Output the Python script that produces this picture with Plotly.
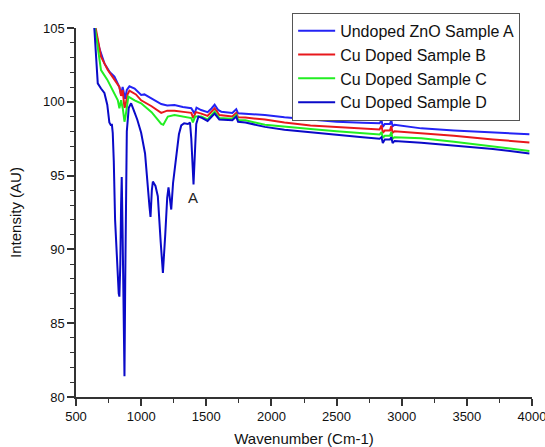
import plotly.graph_objects as go

# ---- data ----
wn_a = [630, 645, 680, 718, 760, 795, 833, 846, 858, 870, 877, 890, 910, 950, 1000, 1025, 1080, 1154,
        1200, 1256, 1320, 1385, 1410, 1425, 1460, 1510, 1540, 1564, 1590, 1615, 1700, 1730, 1744, 1800,
        1950, 2100, 2300, 2500, 2700, 2830, 2845, 2855, 2870, 2910, 2920, 2930, 2945, 3150, 3400, 3700, 3980]
val_a = [106.0, 105.0, 103.6, 102.6, 102.0, 101.7, 101.0, 100.5, 101.0, 100.6, 100.2, 100.8, 101.05, 100.9,
         100.46, 100.5, 100.2, 99.85, 99.75, 99.78, 99.65, 99.56, 99.2, 99.6, 99.44, 99.3, 99.55, 99.8, 99.45,
         99.33, 99.25, 99.5, 99.22, 99.2, 99.1, 98.95, 98.78, 98.65, 98.58, 98.54, 98.75, 98.3, 98.5, 98.5,
         98.75, 98.35, 98.45, 98.2, 98.05, 97.9, 97.8]

wn_b = [630, 650, 692, 718, 744, 795, 833, 846, 858, 872, 879, 895, 910, 960, 1000, 1080, 1154, 1200,
        1256, 1340, 1385, 1400, 1420, 1462, 1510, 1564, 1600, 1700, 1730, 1744, 1800, 1950, 2100, 2300,
        2500, 2700, 2830, 2845, 2855, 2870, 2910, 2920, 2930, 2945, 3150, 3400, 3700, 3980]
val_b = [106.0, 105.0, 103.05, 102.6, 102.15, 101.5, 101.0, 100.4, 100.8, 99.6, 99.7, 100.5, 100.75, 100.5,
         100.1, 99.7, 99.25, 99.4, 99.4, 99.3, 99.25, 98.9, 99.3, 99.2, 99.05, 99.56, 99.1, 99.0, 99.25,
         98.95, 98.93, 98.8, 98.6, 98.4, 98.3, 98.2, 98.12, 98.4, 97.9, 98.05, 98.05, 98.35, 97.9, 98.0,
         97.87, 97.7, 97.45, 97.25]

wn_c = [630, 645, 692, 740, 769, 821, 833, 846, 860, 872, 880, 902, 950, 1000, 1080, 1154, 1170, 1205,
        1256, 1350, 1385, 1397, 1415, 1462, 1510, 1564, 1600, 1700, 1730, 1744, 1800, 1950, 2100, 2300,
        2500, 2700, 2830, 2845, 2855, 2870, 2910, 2920, 2930, 2945, 3150, 3400, 3700, 3980]
val_c = [106.0, 105.0, 102.15, 101.5, 101.0, 100.1, 99.56, 100.1, 99.5, 98.65, 99.0, 100.35, 100.1, 99.9,
         99.3, 98.5, 98.45, 99.0, 99.1, 98.95, 98.9, 98.6, 99.0, 99.0, 98.8, 99.33, 98.9, 98.85, 99.1, 98.77,
         98.75, 98.45, 98.3, 98.15, 98.0, 97.87, 97.78, 97.95, 97.55, 97.7, 97.7, 97.95, 97.5, 97.6, 97.53,
         97.3, 97.0, 96.67]

wn_d = [630, 640, 654, 667, 692, 718, 740, 756, 769, 775, 782, 790, 800, 815, 828, 833, 840, 846, 851,
        858, 866, 872, 878, 884, 890, 905, 923, 940, 970, 1000, 1030, 1064, 1072, 1082, 1090, 1110, 1128,
        1150, 1167, 1185, 1200, 1210, 1222, 1231, 1245, 1269, 1290, 1308, 1330, 1359, 1375, 1385, 1402,
        1415, 1423, 1440, 1470, 1510, 1564, 1600, 1700, 1730, 1744, 1800, 1950, 2100, 2300, 2500, 2700,
        2830, 2845, 2855, 2870, 2910, 2920, 2930, 2945, 3150, 3400, 3700, 3980]
val_d = [106.5, 105.0, 103.05, 101.25, 100.9, 100.6, 99.8, 98.6, 98.4, 98.5, 97.9, 96.0, 92.0, 89.0, 87.0,
         86.8, 89.0, 93.0, 94.9, 91.0, 85.0, 81.4, 88.0, 95.0, 98.0, 99.6, 99.9, 99.5, 98.8, 97.9, 96.5,
         92.9, 92.2, 94.0, 94.6, 94.3, 93.6, 90.5, 88.4, 91.0, 93.5, 94.2, 93.3, 92.7, 94.5, 96.3, 97.8,
         98.4, 98.55, 98.5, 98.6, 97.5, 94.4, 97.0, 98.5, 99.0, 98.9, 98.7, 99.2, 98.8, 98.75, 99.0, 98.65,
         98.6, 98.3, 98.1, 97.95, 97.8, 97.6, 97.5, 97.6, 97.2, 97.45, 97.45, 97.6, 97.2, 97.35, 97.23,
         97.05, 96.8, 96.5]

names = ["Undoped ZnO Sample A", "Cu Doped Sample B", "Cu Doped Sample C", "Cu Doped Sample D"]
colors = ["#2323f5", "#e8181c", "#22ee22", "#0a0ac8"]
x_ticks = [500, 1000, 1500, 2000, 2500, 3000, 3500, 4000]
y_ticks = [80, 85, 90, 95, 100, 105]

series = [(wn_a, val_a), (wn_b, val_b), (wn_c, val_c), (wn_d, val_d)]

fig = go.Figure()
for (xs, ys), name, col in zip(series, names, colors):
    fig.add_trace(go.Scatter(x=xs, y=ys, mode="lines", name=name,
                             line=dict(color=col, width=2)))

fig.add_annotation(x=1398, y=93.5, text="A", showarrow=False,
                   font=dict(size=15, color="#222"))

axis_common = dict(showgrid=False, zeroline=False, showline=True, linecolor="#333", linewidth=1.5,
                   ticks="outside", ticklen=7, tickwidth=1.5, tickcolor="#333", automargin=False,
                   ticklabeloverflow="allow",
                   tickfont=dict(size=13, color="#111"),
                   minor=dict(ticks="outside", ticklen=4, tickwidth=1, tickcolor="#333"))

fig.update_xaxes(range=[500, 4000], tickvals=x_ticks, minor_dtick=250,
                 title=dict(text="Wavenumber (Cm-1)", font=dict(size=15, color="#111"), standoff=10),
                 **axis_common)
fig.update_yaxes(range=[80, 105], tickvals=y_ticks, minor_dtick=1,
                 title=dict(text="Intensity (AU)", font=dict(size=15, color="#111"), standoff=18),
                 **axis_common)

fig.update_layout(
    width=545, height=447,
    margin=dict(l=76, r=13, t=28, b=50, autoexpand=False),
    paper_bgcolor="white", plot_bgcolor="white",
    font=dict(family="Liberation Sans, Arial, sans-serif", color="#111"),
    legend=dict(x=0.474, y=1.041, xanchor="left", yanchor="top",
                bordercolor="#555", borderwidth=1, bgcolor="white",
                font=dict(size=16), tracegroupgap=0, itemwidth=37),
    showlegend=True,
)

fig.write_html("out.html", config={"displayModeBar": False},
               post_script="document.body.style.margin='0';")
